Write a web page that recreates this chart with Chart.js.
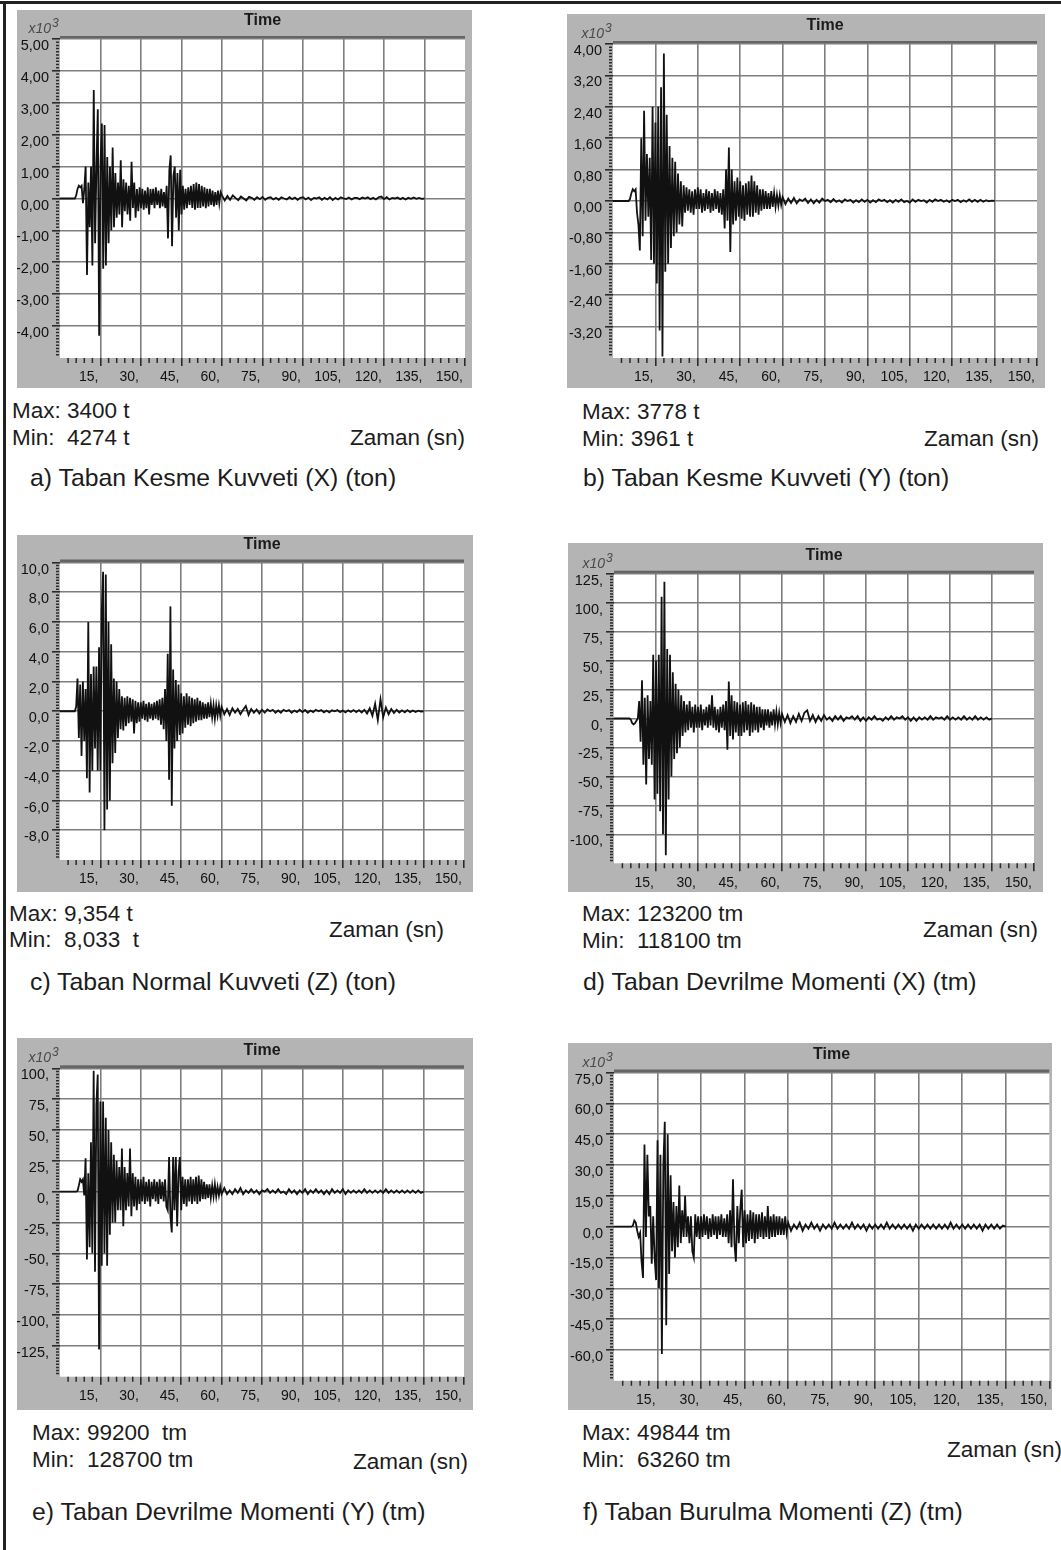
<!DOCTYPE html>
<html>
<head>
<meta charset="utf-8">
<script src="https://cdn.jsdelivr.net/npm/chart.js@4.4.1/dist/chart.umd.min.js"></script>
<style>
  html, body { margin: 0; padding: 0; background: #fff; }
  #page { position: relative; width: 1061px; height: 1550px; overflow: hidden; background: #fff;
          font-family: "Liberation Sans", Arial, sans-serif; color: #1c1c1c; }
  .frameTop { position: absolute; left: 0; top: 1px; width: 1061px; height: 3px; background: #222; }
  .frameLeft { position: absolute; left: 3px; top: 1px; width: 3px; height: 1549px; background: #222; }
  .panel { position: absolute; }
  .t { position: absolute; white-space: pre; line-height: 1; font-size: 22.5px; }
  .cap { font-size: 24.8px; }
</style>
</head>
<body>
<div id="page">
  <div class="frameTop"></div>
  <div class="frameLeft"></div>

  <div class="panel" style="left:17px;top:10px;width:455px;height:378px"><canvas id="ca"></canvas></div>
  <div class="panel" style="left:567px;top:14px;width:478px;height:374px"><canvas id="cb"></canvas></div>
  <div class="panel" style="left:17px;top:535px;width:456px;height:357px"><canvas id="cc"></canvas></div>
  <div class="panel" style="left:568px;top:543px;width:475px;height:349px"><canvas id="cd"></canvas></div>
  <div class="panel" style="left:17px;top:1038px;width:456px;height:372px"><canvas id="ce"></canvas></div>
  <div class="panel" style="left:568px;top:1043px;width:484px;height:367px"><canvas id="cf"></canvas></div>

  <div class="t" style="left:12px;top:400px">Max: 3400 t</div>
  <div class="t" style="left:12px;top:427px">Min:  4274 t</div>
  <div class="t" style="right:596px;top:427px">Zaman (sn)</div>
  <div class="t cap" style="left:30px;top:466px">a) Taban Kesme Kuvveti (X) (ton)</div>

  <div class="t" style="left:582px;top:401px">Max: 3778 t</div>
  <div class="t" style="left:582px;top:428px">Min: 3961 t</div>
  <div class="t" style="right:22px;top:428px">Zaman (sn)</div>
  <div class="t cap" style="left:583px;top:466px">b) Taban Kesme Kuvveti (Y) (ton)</div>

  <div class="t" style="left:9px;top:903px">Max: 9,354 t</div>
  <div class="t" style="left:9px;top:929px">Min:  8,033  t</div>
  <div class="t" style="right:617px;top:919px">Zaman (sn)</div>
  <div class="t cap" style="left:30px;top:970px">c) Taban Normal Kuvveti (Z) (ton)</div>

  <div class="t" style="left:582px;top:903px">Max: 123200 tm</div>
  <div class="t" style="left:582px;top:930px">Min:  118100 tm</div>
  <div class="t" style="right:23px;top:919px">Zaman (sn)</div>
  <div class="t cap" style="left:583px;top:970px">d) Taban Devrilme Momenti (X) (tm)</div>

  <div class="t" style="left:32px;top:1422px">Max: 99200  tm</div>
  <div class="t" style="left:32px;top:1449px">Min:  128700 tm</div>
  <div class="t" style="right:593px;top:1451px">Zaman (sn)</div>
  <div class="t cap" style="left:32px;top:1500px">e) Taban Devrilme Momenti (Y) (tm)</div>

  <div class="t" style="left:582px;top:1422px">Max: 49844 tm</div>
  <div class="t" style="left:582px;top:1449px">Min:  63260 tm</div>
  <div class="t" style="right:-1px;top:1439px">Zaman (sn)</div>
  <div class="t cap" style="left:583px;top:1500px">f) Taban Burulma Momenti (Z) (tm)</div>
</div>

<script>
// records are drawn at 0.5 s steps up to 60 s, then at 1 s steps to 135 s
const STRONG_STEP = 0.5;
const TAIL_START = 60;
const TAIL_STEP = 1;

// a) base shear X (x10^3 t)
const aStrong = [
  0, 0, 0, 0, 0, 0, 0, 0, 0, 0,
  0, 0, 0.1, 0.3, 0.4, 0.35, 0.4, -0.15, 0.3, 1.0,
  -2.4, 0.5, -0.9, 1.0, -2.1, 3.4, -1.4, 1.0, 2.8, -4.3,
  1.1, 2.35, -2.2, 2.3, -2.1, 1.3, -1.4, 1.0, -1.0, 1.6,
  -0.9, 0.8, -0.6, 0.5, -0.5, 1.2, -0.9, 0.6, -0.4, 0.5,
  -0.5, 0.4, -0.7, 1.15, -0.3, 0.5, -0.6, 0.3, -0.4, 0.35,
  -0.3, 0.3, -0.35, 0.25, -0.3, 0.35, -0.5, 0.3, -0.2, 0.3,
  -0.3, 0.35, -0.2, 0.25, -0.3, 0.3, -0.25, 0.2, -0.3, 0.4,
  -1.25, 0.9, 1.35, -1.5, 0.7, 1.0, -0.6, 0.8, -1.0, 0.9,
  -0.5, 0.4, -0.35, 0.3, -0.3, 0.35, -0.2, 0.4, -0.3, 0.45,
  -0.35, 0.5, -0.3, 0.45, -0.3, 0.4, -0.25, 0.35, -0.3, 0.3,
  -0.25, 0.3, -0.2, 0.25, -0.25, 0.2, -0.2, 0.25, -0.15, 0.2
];
const aTail = [
  0.1, -0.06, 0.08, -0.04, 0.1, 0.02, -0.05, 0.06, 0, -0.06,
  0.05, 0.02, -0.04, 0.04, -0.02, 0.05, -0.04, 0.02, 0.04, -0.03,
  0.02, -0.04, 0.04, 0, -0.03, 0.04, -0.02, 0.03, -0.04, 0.02,
  0.04, -0.03, 0.03, -0.05, 0.02, 0, 0.04, -0.04, 0.02, -0.03,
  0.04, -0.05, 0.02, -0.03, 0.04, 0, -0.02, 0.03, -0.03, 0.02,
  0.02, -0.02, 0.03, 0, 0.04, -0.02, 0.02, -0.03, 0.04, 0.06,
  -0.02, 0.04, -0.03, 0.02, 0, 0.03, -0.02, 0.02, -0.03, 0.02,
  -0.01, 0.03, -0.01, 0.02, -0.01, 0
];

// b) base shear Y (x10^3 t)
const bStrong = [
  0, 0, 0, 0, 0, 0, 0, 0, 0, 0,
  0, 0, 0.05, 0.2, 0.3, 0.25, 0.3, -0.3, -0.6, -1.26,
  1.6, -0.9, 2.3, -0.5, 1.2, -0.4, 1.1, -1.5, 2.4, -1.6,
  2.0, -2.1, 2.4, -3.3, 2.9, -3.96, 3.76, -1.8, 2.2, -1.6,
  1.4, -1.2, 1.1, -0.9, 1.0, -0.8, 0.7, -0.6, 0.5, -0.65,
  0.4, -0.3, 0.35, -0.25, 0.3, -0.3, 0.25, -0.35, 0.3, -0.2,
  0.35, -0.2, 0.3, -0.3, 0.2, -0.25, 0.3, -0.2, 0.25, -0.3,
  0.2, -0.25, 0.3, -0.2, 0.25, -0.3, 0.2, -0.35, 0.3, -0.7,
  0.8, -0.5, 1.36, -1.3, 0.8, -0.6, 0.5, -0.5, 0.6, -0.4,
  0.5, -0.45, 0.4, -0.5, 0.45, -0.35, 0.5, -0.4, 0.65, -0.4,
  0.5, -0.3, 0.4, -0.35, 0.3, -0.25, 0.3, -0.2, 0.25, -0.2,
  0.2, -0.2, 0.25, -0.15, 0.2, -0.15, 0.15, -0.12, 0.15, -0.1
];
const bTail = [
  0.1, -0.08, 0.06, -0.05, 0.08, -0.06, 0.04, 0, 0.06, -0.05,
  0.04, -0.06, 0.03, -0.04, 0.06, 0, 0.03, -0.03, 0.05, -0.02,
  0.02, -0.04, 0.04, 0, 0.03, -0.04, 0.02, -0.03, 0.04, -0.02,
  0.03, -0.04, 0.02, -0.03, 0.04, 0, 0.03, -0.03, 0.02, -0.04,
  0.03, -0.02, 0.04, -0.03, 0, -0.04, 0.04, -0.02, 0.03, 0,
  0.02, -0.04, 0.03, -0.02, 0.04, 0, 0.03, -0.02, 0.02, -0.03,
  0.03, 0, 0.03, -0.03, 0.02, -0.02, 0.04, -0.02, 0.03, -0.02,
  0.03, -0.02, 0.02, -0.01, 0.01, 0
];

// c) base normal force Z (t)
const cStrong = [
  0, 0, 0, 0, 0, 0, 0, 0, 0, 0,
  0, 0, 0.3, 2.2, -1.8, 1.8, -3.0, 2.0, -2.0, 1.5,
  -4.5, 6.0, -5.46, 2.5, -4.0, 3.0, -2.5, 3.0, -4.0, 4.3,
  -4.0, 6.7, 9.37, -8.0, 9.2, -6.6, 6.0, -6.0, 4.5, -3.5,
  2.2, -2.8, 2.0, -1.8, 1.5, -1.2, 1.0, -1.3, 0.9, -1.0,
  1.0, -0.8, 0.9, -0.7, 0.8, -1.5, 0.7, -0.8, 0.6, -0.7,
  0.6, -0.5, 0.7, -0.6, 0.5, -0.7, 0.6, -0.5, 0.5, -0.6,
  0.6, -0.5, 0.7, -0.6, 0.8, -0.9, 0.9, -1.2, 1.5, -2.0,
  3.86, -4.6, 7.05, -6.36, 2.8, -2.5, 2.1, -2.0, 1.8, -1.6,
  1.2, -1.5, 1.0, -1.1, 1.2, -0.9, 1.0, -1.0, 0.9, -0.8,
  0.8, -0.7, 0.9, -0.6, 0.7, -0.6, 0.6, -0.5, 0.5, -0.5,
  0.6, -0.4, 0.5, -0.4, 0.4, -0.5, 0.4, -0.3, 0.4, -0.3
];
const cTail = [
  0.3, -0.2, 0.15, -0.25, 0.2, -0.1, 0.15, -0.2, 0.1, 0.35,
  -0.25, 0.15, -0.1, 0.12, -0.15, 0.1, -0.1, 0.12, 0, 0.1,
  -0.1, 0.05, -0.1, 0.1, 0, 0.08, -0.1, 0.05, -0.06, 0.1,
  -0.06, 0.08, -0.1, 0.05, -0.06, 0.1, 0, 0.08, -0.08, 0.05,
  -0.08, 0.06, 0, 0.08, -0.06, 0.05, -0.08, 0.06, -0.05, 0.08,
  -0.06, 0.08, -0.08, 0.1, -0.15, 0.2, -0.3, 0.5, -0.6, 0.8,
  -0.4, 0.25, -0.2, 0.15, -0.12, 0.1, -0.08, 0.06, -0.08, 0.08,
  -0.06, 0.05, -0.05, 0.04, -0.03, 0
];

// d) overturning moment X (x10^3 tm)
const dStrong = [
  0, 0, 0, 0, 0, 0, 0, 0, 0, 0,
  0, 0, -1, -4, -5, -4, -2, 0, 15, -20,
  33, -40, 18, -57, 20, -35, 15, -40, 55, -70,
  50, -65, 55, -80, 105, -100, 118, -118, 60, -70,
  55, -50, 40, -35, 30, -30, 25, -25, 20, -15,
  15, -12, 12, -10, 15, -8, 10, -12, 12, -8,
  10, -8, 12, -10, 8, -6, 10, -8, 12, -6,
  20, -8, 10, -10, 8, -12, 10, -8, 12, -10,
  15, -27, 32, -15, 20, -18, 15, -12, 14, -15,
  12, -15, 14, -12, 15, -10, 12, -15, 14, -12,
  12, -10, 10, -12, 10, -8, 8, -10, 8, -6,
  8, -8, 6, -6, 8, -5, 6, -5, 5, -4
];
const dTail = [
  4, -3, 3, -4, 2, -3, 4, -2, 5, 7,
  -2, 3, -3, 2, -2, 3, -1, 1, -2, 2,
  -1, 2, -2, 1, 0, 2, -1, 2, -2, 1,
  -2, 1, -1, 2, -1, 0, -2, 1, -1, 2,
  -1, 1, 0, 2, -1, 1, -2, 1, -2, 1,
  -1, 1, -1, 2, -1, 1, 0, 1, -1, 2,
  -1, 1, -1, 1, -1, 2, -1, 1, -1, 2,
  -1, 1, -1, 1, -1, 0
];

// e) overturning moment Y (x10^3 tm)
const eStrong = [
  0, 0, 0, 0, 0, 0, 0, 0, 0, 0,
  0, 0, 0, 0.5, 5, 10, 8, 10, -3, 27,
  -55, 15, -45, 40, -50, 98, -65, 70, 95, -128,
  73, -60, 73, -50, 60, -60, 50, -35, 40, -25,
  30, -25, 25, -15, 20, -15, 35, -28, 20, -15,
  15, -12, 35, -20, 15, -12, 12, -15, 10, -10,
  10, -8, 12, -10, 8, -8, 10, -12, 8, -6,
  10, -8, 8, -10, 10, -6, 8, -8, 10, -12,
  -15, 28, -20, -33, 28, -15, 28, -28, 15, 28,
  -15, 12, -10, 10, -12, 10, -8, 12, -10, 10,
  -8, 12, -10, 13, -8, 10, -6, 8, -6, 6,
  -5, 6, -5, 5, -4, 6, -4, 4, -3, 4
];
const eTail = [
  -2, 3, -2, 1, -2, 2, -1, 3, -2, 1,
  -1, 2, -1, 1, -2, 1, 0, 2, -1, 1,
  -1, 2, -1, 0, -2, 2, -1, 1, -2, 1,
  -1, 2, -2, 1, -1, 2, -1, 1, -2, 1,
  -2, 2, -1, 1, -1, 2, -2, 1, -1, 1,
  -1, 1, -1, 2, -1, 1, -1, 1, -1, 1,
  -1, 2, -1, 1, -1, 1, -1, 1, -1, 1,
  -1, 1, -1, 1, -1, 0
];

// f) torsional moment Z (x10^3 tm)
const fStrong = [
  0, 0, 0, 0, 0, 0, 0, 0, 0, 0,
  0, 0, 0, 0.5, 3, 2, -2, -5, -3, -17,
  -25, 40, -5, 35, 5, 10, -18, 5, -15, -26,
  42, -30, 35, -62, 30, 51, -48, 45, -23, 25,
  -12, 12, -15, 10, -10, 20, -8, 8, -5, 15,
  -5, 5, -8, 5, -12, -15, 6, -5, 5, -6,
  5, -5, 6, -4, 5, -6, 4, -5, 6, -4,
  5, -6, 5, -4, 6, -5, 4, -5, 6, -8,
  8, -10, 23, -8, -17, 10, -8, 8, 18, -10,
  8, -8, 6, -7, 8, -6, 7, -8, 6, -6,
  6, -5, 7, -6, 5, -5, 10, -6, 5, -5,
  6, -5, 5, -4, 5, -4, 4, -4, 5, -3
];
const fTail = [
  2, -2, 1, -1, 2, -2, 1, -1, 2, -1,
  1, -2, 1, -1, 1, -1, 2, -1, 1, -1,
  1, -1, 2, -1, 1, -1, 1, -2, 1, -1,
  1, -1, 1, -1, 2, -1, 1, -1, 1, -1,
  1, -1, 1, -2, 1, -1, 1, -1, 1, -1,
  1, -1, 1, -1, 1, -1, 2, -1, 1, -1,
  1, -1, 1, -1, 1, -1, 1, -2, 1, -1,
  1, -1, 1, -1, 0.5, 0
];

const X_MIN = 0;
const X_MAX = 150;
const X_STEP = 15;

const FONT = '"Liberation Sans", Arial, sans-serif';
const PANEL_GRAY = "#b4b4b4";
const GRID = "#7e7e7e";
const TICK = "#2a2a2a";
const CLEAR = "rgba(0,0,0,0)";

const panels = [
  { id: "ca", strong: aStrong, tail: aTail, min: -5, max: 5, step: 1, dec: 2, exp: true, pad: { left: 43, top: 29, right: 7, bottom: 30 } },
  { id: "cb", strong: bStrong, tail: bTail, min: -4, max: 4, step: 0.8, dec: 2, exp: true, pad: { left: 46, top: 30, right: 8, bottom: 30 } },
  { id: "cc", strong: cStrong, tail: cTail, min: -10, max: 10, step: 2, dec: 1, exp: false, pad: { left: 43, top: 27.5, right: 9, bottom: 32 } },
  { id: "cd", strong: dStrong, tail: dTail, min: -125, max: 125, step: 25, dec: 0, exp: true, pad: { left: 46, top: 30.7, right: 9, bottom: 28.7 } },
  { id: "ce", strong: eStrong, tail: eTail, min: -150, max: 100, step: 25, dec: 0, exp: true, pad: { left: 43, top: 30.3, right: 9, bottom: 33.3 } },
  { id: "cf", strong: fStrong, tail: fTail, min: -75, max: 75, step: 15, dec: 1, exp: true, pad: { left: 46, top: 29.5, right: 2.7, bottom: 29.2 } }
];

const toPoints = (strong, tail) => [
  ...strong.map((y, i) => ({ x: i * STRONG_STEP, y })),
  ...tail.map((y, i) => ({ x: TAIL_START + i * TAIL_STEP, y }))
];

const fmt = (v, dec) => {
  if (Math.abs(v) < 1e-9) v = 0;
  const s = v.toFixed(dec).replace(".", ",");
  return dec === 0 ? s + "," : s;
};

const near = (a, b) => Math.abs(a - b) < 1e-6;

const panelFrame = {
  id: "panelFrame",
  beforeDraw(chart, args, opts) {
    const { ctx, chartArea: a, width, height } = chart;
    ctx.save();
    ctx.fillStyle = PANEL_GRAY;
    ctx.fillRect(0, 0, width, height);
    ctx.fillStyle = "#fff";
    ctx.fillRect(a.left, a.top, a.right - a.left, a.bottom - a.top);
    ctx.fillStyle = "#656565";
    ctx.fillRect(a.left, a.top - 3, a.right - a.left, 3);

    ctx.fillStyle = "#1a1a1a";
    ctx.font = "bold 16px " + FONT;
    ctx.textAlign = "center";
    ctx.textBaseline = "middle";
    ctx.fillText("Time", (a.left + a.right) / 2, a.top - 18);

    if (opts.exp) {
      ctx.fillStyle = "#4a4a4a";
      ctx.font = "italic 14px " + FONT;
      ctx.textAlign = "right";
      ctx.textBaseline = "alphabetic";
      ctx.fillText("x10", a.left - 9, a.top - 6);
      ctx.font = "italic 12px " + FONT;
      ctx.textAlign = "left";
      ctx.fillText("3", a.left - 8, a.top - 12);
    }
    ctx.restore();
  },
  afterDraw(chart, args, opts) {
    const { ctx, chartArea: a, scales: { x, y } } = chart;
    ctx.save();
    ctx.strokeStyle = TICK;
    ctx.lineWidth = 1.5;
    ctx.beginPath();
    for (let v = X_MIN + 3; v < X_MAX; v += 3) {
      if (v % X_STEP === 0) continue;
      const px = x.getPixelForValue(v);
      ctx.moveTo(px, a.bottom);
      ctx.lineTo(px, a.bottom + 5);
    }
    const n = Math.round((y.max - y.min) / opts.minor);
    for (let i = 1; i < n; i++) {
      if (i % 10 === 0) continue;
      const py = y.getPixelForValue(y.min + i * opts.minor);
      ctx.moveTo(a.left - 4, py);
      ctx.lineTo(a.left - 1, py);
    }
    ctx.stroke();
    ctx.restore();
  }
};

panels.forEach(p => {
  new Chart(document.getElementById(p.id), {
    type: "line",
    data: {
      datasets: [{
        data: toPoints(p.strong, p.tail),
        borderColor: "#111",
        borderWidth: 1.8,
        borderJoinStyle: "miter",
        pointRadius: 0,
        tension: 0,
        fill: false
      }]
    },
    options: {
      animation: false,
      responsive: true,
      maintainAspectRatio: false,
      parsing: false,
      layout: { padding: { top: p.pad.top, right: p.pad.right, left: 0, bottom: 0 } },
      plugins: {
        legend: { display: false },
        tooltip: { enabled: false },
        title: { display: false },
        panelFrame: { exp: p.exp, minor: p.step / 10 }
      },
      scales: {
        x: {
          type: "linear",
          min: X_MIN,
          max: X_MAX,
          afterFit: s => { s.height = p.pad.bottom; s.paddingLeft = 0; s.paddingRight = 0; },
          border: { display: false },
          grid: {
            color: c => c.tick && (near(c.tick.value, X_MIN) || near(c.tick.value, X_MAX)) ? CLEAR : GRID,
            lineWidth: 1.6,
            tickLength: 8,
            tickWidth: 1.6,
            tickColor: c => c.tick && near(c.tick.value, X_MIN) ? CLEAR : TICK
          },
          ticks: {
            stepSize: X_STEP,
            autoSkip: false,
            maxRotation: 0,
            align: "end",
            labelOffset: -2,
            padding: 3,
            color: "#111",
            font: { family: FONT, size: 14 },
            callback: v => near(v, X_MIN) ? "" : v + ","
          }
        },
        y: {
          type: "linear",
          min: p.min,
          max: p.max,
          afterFit: s => { s.width = p.pad.left; s.paddingTop = 0; s.paddingBottom = 0; },
          border: { display: false },
          grid: {
            color: c => c.tick && near(c.tick.value, p.min) ? CLEAR : GRID,
            lineWidth: 1.6,
            tickLength: 8,
            tickWidth: 1.6,
            tickColor: c => c.tick && near(c.tick.value, p.min) ? CLEAR : TICK
          },
          ticks: {
            stepSize: p.step,
            autoSkip: false,
            labelOffset: 7,
            padding: 3,
            color: "#111",
            font: { family: FONT, size: 14.5 },
            callback: v => near(v, p.min) ? "" : fmt(v, p.dec)
          }
        }
      }
    },
    plugins: [panelFrame]
  });
});
</script>
</body>
</html>
